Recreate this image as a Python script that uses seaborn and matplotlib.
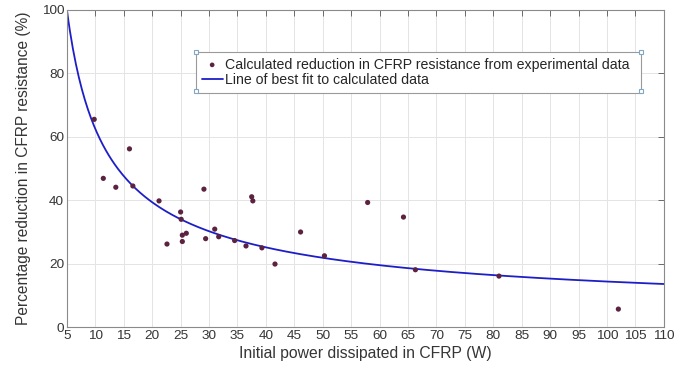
#%% import libraries
import numpy as np
import pandas as pd
import seaborn as sns
import matplotlib.pyplot as plt

#%% data
power_w = [9.8, 11.4, 13.6, 16.0, 16.6, 21.2, 22.6, 25.0, 25.1, 25.3, 25.3, 26.0,
           29.1, 29.4, 31.0, 31.7, 34.5, 36.5, 37.5, 37.7, 39.3, 41.6, 46.1, 50.3,
           57.9, 64.2, 66.3, 81.0, 102.0]
reduction_pct = [65.5, 46.9, 44.1, 56.2, 44.5, 39.8, 26.2, 36.3, 34.0, 29.0, 27.0, 29.6,
                 43.5, 27.9, 30.9, 28.5, 27.3, 25.6, 41.1, 39.8, 25.0, 19.9, 30.0, 22.5,
                 39.3, 34.7, 18.1, 16.1, 5.7]

# fitted curve y = a * x^b + c
fit_a, fit_b, fit_c = 301.0, -0.70, 2.4
x_fit = np.linspace(5, 110, 400)
y_fit = fit_a * x_fit ** fit_b + fit_c

df = pd.DataFrame({'power': power_w, 'reduction': reduction_pct})
fit = pd.DataFrame({'power': x_fit, 'reduction': y_fit})

#%% plot
sns.set_theme(style='whitegrid')
plt.rcParams['font.family'] = ['Liberation Sans', 'DejaVu Sans']

fig = plt.figure(figsize=(6.76, 3.8), dpi=100)
ax = fig.add_axes([0.099, 0.139, 0.883, 0.835])

sns.scatterplot(data=df, x='power', y='reduction', ax=ax, color='#5b2340', s=14,
                edgecolor='none', zorder=3,
                label='Calculated reduction in CFRP resistance from experimental data')
sns.lineplot(data=fit, x='power', y='reduction', ax=ax, color='#1e1ec8', lw=1.3,
             zorder=2, label='Line of best fit to calculated data')

ax.set_xlim(5, 110)
ax.set_ylim(0, 100)
ax.set_xticks(range(5, 111, 5))
ax.set_yticks(range(0, 101, 20))
ax.set_xlabel('Initial power dissipated in CFRP (W)', fontsize=11.3, color='#353535', labelpad=3)
ax.set_ylabel('Percentage reduction in CFRP resistance (%)', fontsize=11.2, color='#353535', labelpad=8)

ax.set_facecolor('white')
ax.grid(True, color='#e4e4e4', lw=0.7)
for s in ax.spines.values():
    s.set_color('#8a8a8a')
    s.set_linewidth(0.8)
ax.tick_params(direction='in', length=4, width=0.7, color='#6a6a6a', labelsize=9.7,
               labelcolor='#353535', top=True, right=True, pad=2)

# legend box spanning the same area as in the picture
lx0, ly0, lw, lh = 0.216, 0.7445, 0.7455, 0.123
leg = ax.legend(loc='upper left', bbox_to_anchor=(lx0, ly0, lw, lh), mode='expand',
                frameon=True, fancybox=False, fontsize=10.2, borderpad=0.4,
                handlelength=1.5, handletextpad=0.15, labelspacing=0.12,
                borderaxespad=0, markerscale=0.9)
leg.get_frame().set_edgecolor('#9a9a9a')
leg.get_frame().set_linewidth(0.8)
leg.get_frame().set_alpha(1)

# small selection handles on the legend corners
ax.plot([lx0, lx0 + lw, lx0, lx0 + lw], [ly0, ly0, ly0 + lh, ly0 + lh], 's', ms=3.5,
        mfc='white', mec='#7fa8c8', mew=0.8, transform=ax.transAxes, clip_on=False,
        zorder=10)

plt.savefig('out.png', dpi=100)
